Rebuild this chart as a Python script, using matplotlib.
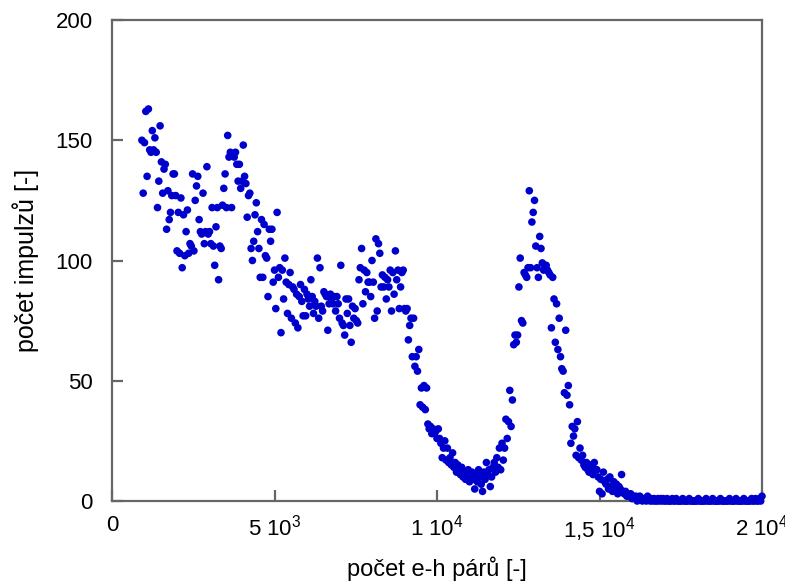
import numpy as np
import matplotlib
matplotlib.use("Agg")
import matplotlib.pyplot as plt

plt.rcParams['font.family'] = ['Liberation Sans', 'DejaVu Sans']
plt.rcParams['mathtext.fontset'] = 'custom'
plt.rcParams['mathtext.rm'] = 'Liberation Sans'

# channel grid (number of e-h pairs)
x_first = 920
x_step = 40

# counts, 25 channels per row
counts_rise = [150,128,149,162,135,163,146,145,154,146,151,145,122,133,156,141,128,138,140,113,129,117,120,127,136,
               136,127,104,120,103,126,97,119,102,112,121,103,107,106,136,104,125,131,135,117,112,111,128,107,112,
               139,111,112,107,122,106,98,114,122,92,106,105,123,130,136,122,152,143,145,122,144,143,145,140,133,
               140,130,133,148,135,132,118,127,128,105,100,108,119,124,112,105,93,117,93,115,102,101,85,113,108]
counts_plateau = [113,91,96,80,120,93,97,70,96,84,101,91,78,90,95,76,89,88,74,86,72,85,90,83,77,
                  88,77,86,84,81,92,85,78,83,81,101,76,97,81,79,87,86,85,71,82,86,84,82,85,79,
                  85,82,76,98,74,73,69,84,78,84,73,66,81,76,80,75,74,92,97,105,82,96,87,95,91,
                  91,85,100,91,76,109,79,107,103,89,94,89,93,84,92,89,96,79,95,86,104,92,96,80,89]
counts_valley = [95,96,80,79,80,67,73,76,60,76,56,60,54,63,40,47,39,48,38,47,32,30,31,28,30,
                 28,29,26,30,26,24,18,22,25,17,22,16,18,15,20,14,16,12,15,13,11,14,10,12,9,
                 11,13,8,10,12,9,5,11,8,13,10,7,4,12,9,16,11,13,6,10,14,16,12,18,14]
counts_peak = [22,13,24,17,22,34,26,33,46,31,42,65,69,66,69,89,101,75,74,95,94,93,97,129,97,
               116,120,125,106,97,93,110,105,99,96,97,98,96,95,94,72,93,84,66,82,63,76,60,55,54,
               45,71,44,48,40,24,31,27,30,19,33,18,22,17,19,15,14,16,13,12,15,14,11,16,13,
               13,10,4,9,3,12,8,7,9,5,10,6,4,8,5,7,3,6,5,11,4,3,4,2,3]
counts_tail = [2,3,1,2,1,2,0,1,2,1,0,1,1,0,2,1,0,1,0,1,0,0,1,0,1,
               0,1,0,0,1,0,0,0,1,0,0,1,0,0,0,0,1,0,0,0,0,1,0,0,0,
               0,0,0,1,0,0,0,0,0,1,0,0,0,0,1,0,0,0,0,0,1,0,0,0,0,
               0,0,1,0,0,0,0,1,0,0,0,0,0,1,0,0,0,0,0,1,0,0,1,0,0,
               1,0,2]

counts = np.array(counts_rise + counts_plateau + counts_valley + counts_peak + counts_tail, dtype=float)
pairs = x_first + x_step * np.arange(len(counts))

x_ticks = [0, 5000, 10000, 15000, 20000]
x_ticklabels = ['0', r'5 $\mathregular{10^{3}}$', r'1 $\mathregular{10^{4}}$',
                r'1,5 $\mathregular{10^{4}}$', r'2 $\mathregular{10^{4}}$']
y_ticks = [0, 50, 100, 150, 200]
x_label = 'počet e-h párů [-]'
y_label = 'počet impulzů [-]'

fig = plt.figure(figsize=(7.85, 5.82), dpi=100)
ax = fig.add_axes([112/785, 1-501/582, 650/785, 481/582])

ax.scatter(pairs, counts, s=30, color='#0000CC', edgecolors='none', clip_on=False, zorder=5)

ax.set_xlim(0, 20000)
ax.set_ylim(0, 200)
ax.set_xticks(x_ticks)
ax.set_xticklabels(x_ticklabels)
ax.set_yticks(y_ticks)

for s in ax.spines.values():
    s.set_color('#666666')
    s.set_linewidth(1.6)
ax.tick_params(direction='in', length=8, width=1.6, color='#666666',
               labelsize=16, labelcolor='black', top=False, right=False)
ax.tick_params(axis='x', pad=10)
ax.tick_params(axis='y', pad=14)
ax.set_xlabel(x_label, fontsize=17, labelpad=9)
ax.set_ylabel(y_label, fontsize=18, labelpad=12)

fig.savefig('out.png', dpi=100)
